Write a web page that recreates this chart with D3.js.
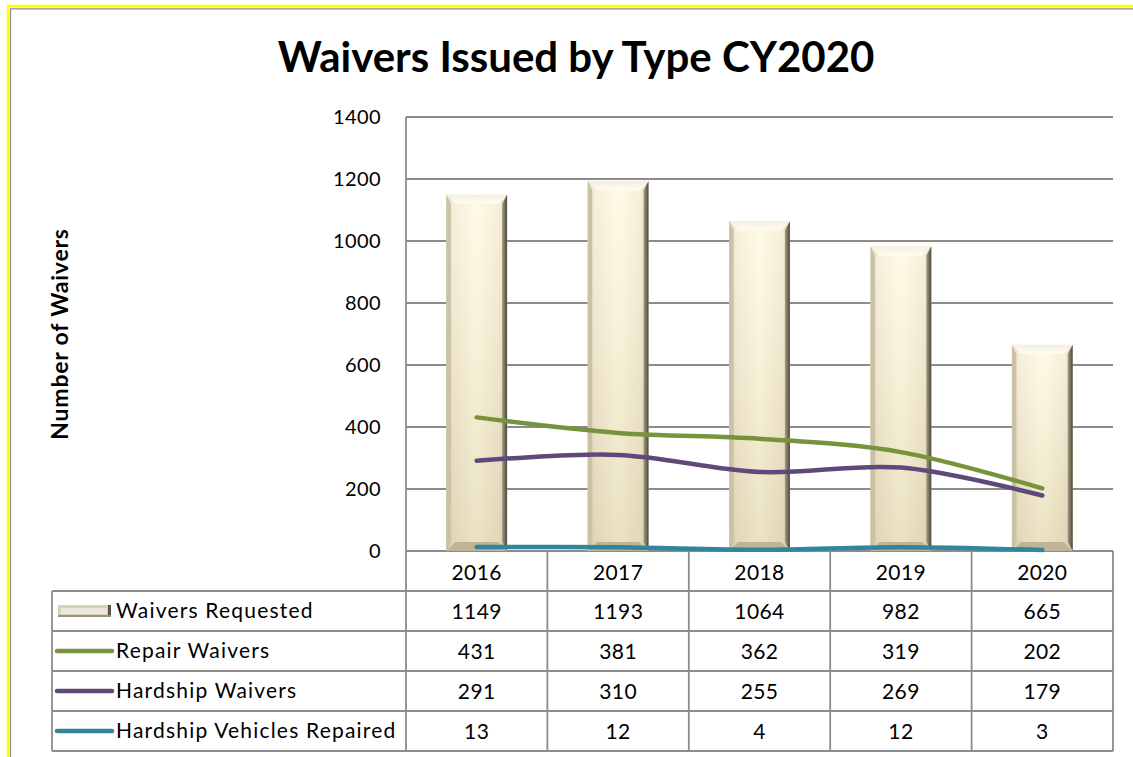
<!DOCTYPE html>
<html>
<head>
<meta charset="utf-8">
<script src="https://cdn.jsdelivr.net/npm/d3@7"></script>
<style>
  body { margin: 0; background: #fff; }
  svg { display: block; font-family: Lato, "Open Sans", sans-serif; }
</style>
</head>
<body>
<div id="chart"></div>
<script>
const years = ['2016', '2017', '2018', '2019', '2020'];
const waiversRequested = [1149, 1193, 1064, 982, 665];
const repairWaivers = [431, 381, 362, 319, 202];
const hardshipWaivers = [291, 310, 255, 269, 179];
const hardshipVehiclesRepaired = [13, 12, 4, 12, 3];
const yTicks = [0, 200, 400, 600, 800, 1000, 1200, 1400];

const lineSeries = [
  { name: 'Repair Waivers', values: repairWaivers, color: '#77933C' },
  { name: 'Hardship Waivers', values: hardshipWaivers, color: '#5F497A' },
  { name: 'Hardship Vehicles Repaired', values: hardshipVehiclesRepaired, color: '#31859C' }
];

const width = 1133, height = 757;
const plot = { left: 406, right: 1113, top: 117, bottom: 551 };
const tableLeft = 52, rowH = 40;

const svg = d3.select('#chart').append('svg')
  .attr('width', width)
  .attr('height', height);

// gradients for the bevelled bars
const defs = svg.append('defs');
const face = defs.append('linearGradient').attr('id', 'face').attr('x1', 0).attr('x2', 1).attr('y1', 0).attr('y2', 0);
face.append('stop').attr('offset', '0%').attr('stop-color', '#d9cfb1');
face.append('stop').attr('offset', '12%').attr('stop-color', '#f3ead0');
face.append('stop').attr('offset', '50%').attr('stop-color', '#fffadf');
face.append('stop').attr('offset', '85%').attr('stop-color', '#f4ebcf');
face.append('stop').attr('offset', '100%').attr('stop-color', '#e2d8b9');
const shade = defs.append('linearGradient').attr('id', 'shade').attr('x1', 0).attr('x2', 0).attr('y1', 0).attr('y2', 1);
shade.append('stop').attr('offset', '0%').attr('stop-color', '#fff').attr('stop-opacity', 0.25);
shade.append('stop').attr('offset', '100%').attr('stop-color', '#b8a97e').attr('stop-opacity', 0.3);
const rightEdge = defs.append('linearGradient').attr('id', 'rightEdge').attr('x1', 0).attr('x2', 1);
rightEdge.append('stop').attr('offset', '0%').attr('stop-color', '#a49d86');
rightEdge.append('stop').attr('offset', '100%').attr('stop-color', '#4d4839');
const topEdge = defs.append('linearGradient').attr('id', 'topEdge').attr('x1', 0).attr('x2', 0).attr('y1', 0).attr('y2', 1);
topEdge.append('stop').attr('offset', '0%').attr('stop-color', '#f3efe0');
topEdge.append('stop').attr('offset', '100%').attr('stop-color', '#fffdf2');

// outer frame
svg.append('rect').attr('x', 8).attr('y', 6).attr('width', 1140).attr('height', 770)
  .attr('fill', 'none').attr('stroke', '#ffff00').attr('stroke-width', 2.5);
svg.append('path').attr('d', 'M10.5,780V8.8H1140')
  .attr('fill', 'none').attr('stroke', '#8c8c8c').attr('stroke-width', 1.2);

const x = d3.scaleBand().domain(years).range([plot.left, plot.right])
  .paddingInner(0.57).paddingOuter(0.285);
const xCell = d3.scaleBand().domain(years).range([plot.left, plot.right]);
const y = d3.scaleLinear().domain([0, 1400]).range([plot.bottom, plot.top]);

// title
svg.append('text')
  .attr('x', 576).attr('y', 72)
  .attr('text-anchor', 'middle')
  .attr('font-size', 42).attr('font-weight', 'bold')
  .text('Waivers Issued by Type CY2020');

// y axis title
svg.append('text')
  .attr('transform', 'translate(68,334) rotate(-90)')
  .attr('text-anchor', 'middle')
  .attr('font-size', 23).attr('font-weight', 'bold')
  .attr('letter-spacing', 0.8)
  .text('Number of Waivers');

// gridlines
svg.append('g').selectAll('line')
  .data(yTicks)
  .join('line')
  .attr('x1', plot.left).attr('x2', plot.right)
  .attr('y1', d => y(d)).attr('y2', d => y(d))
  .attr('stroke', '#8c8c8c').attr('stroke-width', 1.8);

// y tick labels
svg.append('g').selectAll('text')
  .data(yTicks)
  .join('text')
  .attr('x', 381).attr('y', d => y(d))
  .attr('dy', '0.35em')
  .attr('text-anchor', 'end')
  .attr('font-size', 20)
  .attr('letter-spacing', 0.4)
  .text(d => d);

// bars
const bw = x.bandwidth(), bev = 9;
const bars = svg.append('g').selectAll('g')
  .data(years.map((yr, i) => ({ yr, v: waiversRequested[i] })))
  .join('g')
  .attr('transform', d => `translate(${x(d.yr)},${y(d.v)})`);
bars.append('rect')
  .attr('width', bw).attr('height', d => plot.bottom - y(d.v))
  .attr('fill', 'url(#face)');
bars.append('rect')
  .attr('width', bw).attr('height', d => plot.bottom - y(d.v))
  .attr('fill', 'url(#shade)');
bars.append('path')
  .attr('d', `M0,0H${bw}L${bw - bev},${bev}H${bev}Z`)
  .attr('fill', 'url(#topEdge)');
bars.append('path')
  .attr('d', d => { const h = plot.bottom - y(d.v); return `M0,0L${bev * 0.5},${bev}V${h - bev}L0,${h}Z`; })
  .attr('fill', '#cbc2a5');
bars.append('path')
  .attr('d', d => { const h = plot.bottom - y(d.v); return `M${bw},0L${bw - 5},${bev}V${h - bev}L${bw},${h}Z`; })
  .attr('fill', 'url(#rightEdge)');
bars.append('path')
  .attr('d', d => { const h = plot.bottom - y(d.v); return `M0,${h}H${bw}L${bw - bev},${h - bev}H${bev}Z`; })
  .attr('fill', '#bfb497');

// lines
const line = d3.line()
  .x((d, i) => x(years[i]) + bw / 2)
  .y(d => y(d))
  .curve(d3.curveCatmullRom.alpha(0.5));
svg.append('g').selectAll('path')
  .data(lineSeries)
  .join('path')
  .attr('d', d => line(d.values))
  .attr('fill', 'none')
  .attr('stroke', d => d.color)
  .attr('stroke-width', 4.5)
  .attr('stroke-linecap', 'round');

// data table
const rows = [{ name: 'Waivers Requested', values: waiversRequested, bar: true }].concat(lineSeries);
const tableBottom = plot.bottom + rowH * (rows.length + 1);
const grid = svg.append('g').attr('stroke', '#8c8c8c').attr('stroke-width', 1.8);
// horizontal lines
grid.selectAll('.hl')
  .data(d3.range(1, rows.length + 2))
  .join('line')
  .attr('x1', tableLeft)
  .attr('x2', plot.right)
  .attr('y1', i => plot.bottom + i * rowH)
  .attr('y2', i => plot.bottom + i * rowH);
// vertical lines
grid.selectAll('.vl')
  .data(years.slice(1).map(xCell).concat([plot.right]))
  .join('line')
  .attr('x1', d => d).attr('x2', d => d)
  .attr('y1', plot.bottom).attr('y2', tableBottom);
grid.append('line').attr('x1', plot.left).attr('x2', plot.left)
  .attr('y1', plot.top).attr('y2', tableBottom);
grid.append('line').attr('x1', tableLeft).attr('x2', tableLeft)
  .attr('y1', plot.bottom + rowH).attr('y2', tableBottom);

// year header
svg.append('g').selectAll('text')
  .data(years)
  .join('text')
  .attr('x', d => xCell(d) + xCell.bandwidth() / 2)
  .attr('y', plot.bottom + rowH / 2 + 2)
  .attr('dy', '0.35em')
  .attr('text-anchor', 'middle')
  .attr('font-size', 21)
  .attr('letter-spacing', 0.4)
  .text(d => d);

const rowG = svg.append('g').selectAll('g')
  .data(rows)
  .join('g')
  .attr('transform', (d, i) => `translate(0,${plot.bottom + rowH * (i + 1)})`);
rowG.selectAll('text.val')
  .data(d => d.values)
  .join('text')
  .attr('class', 'val')
  .attr('x', (d, i) => xCell(years[i]) + xCell.bandwidth() / 2)
  .attr('y', rowH / 2 + 1)
  .attr('dy', '0.35em')
  .attr('text-anchor', 'middle')
  .attr('font-size', 21)
  .attr('letter-spacing', 0.4)
  .text(d => d);
rowG.append('text')
  .attr('x', 116).attr('y', rowH / 2)
  .attr('dy', '0.35em')
  .attr('font-size', 21)
  .attr('letter-spacing', 1.2)
  .text(d => d.name);
// legend keys
rowG.filter(d => !d.bar).append('line')
  .attr('x1', 57).attr('x2', 112).attr('y1', rowH / 2).attr('y2', rowH / 2)
  .attr('stroke', d => d.color).attr('stroke-width', 4.5).attr('stroke-linecap', 'round');
const key = rowG.filter(d => d.bar).append('g').attr('transform', `translate(58,${rowH / 2 - 6})`);
key.append('rect').attr('width', 53).attr('height', 12).attr('fill', '#d8d1bc');
key.append('rect').attr('x', 3).attr('y', 3).attr('width', 46).attr('height', 6).attr('fill', '#ebe7da');
key.append('rect').attr('x', 50).attr('width', 3).attr('height', 12).attr('fill', '#5a5444');
key.append('rect').attr('y', 10).attr('width', 53).attr('height', 2).attr('fill', '#9a937e');
</script>
</body>
</html>
